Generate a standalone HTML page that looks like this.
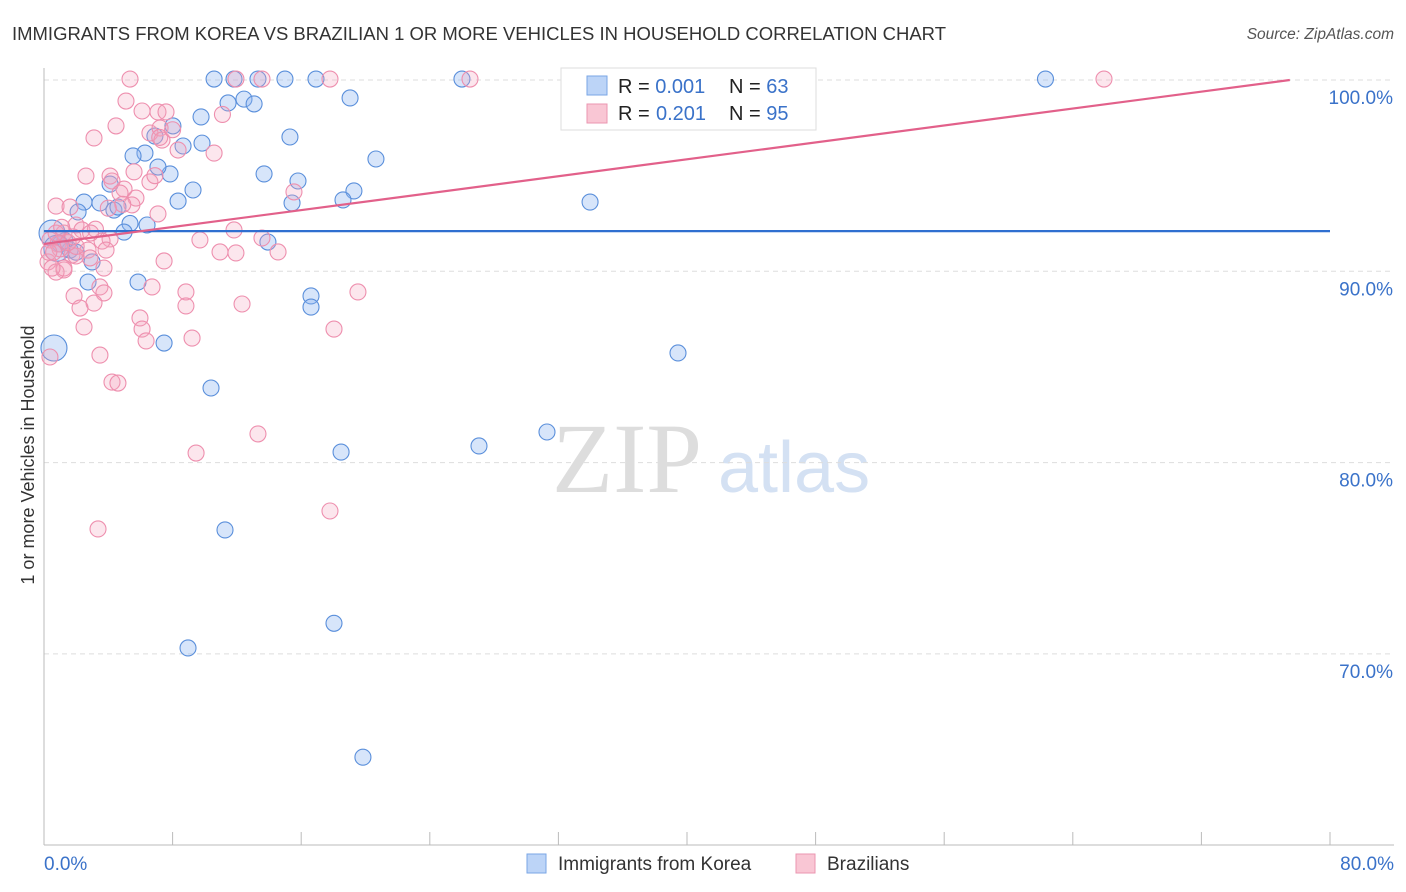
<!DOCTYPE html>
<html><head><meta charset="utf-8"><style>
body{margin:0;background:#fff;font-family:"Liberation Sans",sans-serif;}
svg{display:block}
</style></head><body>
<svg id="chart" width="1406" height="892" viewBox="0 0 1406 892">
<text x="12" y="40" font-size="18" fill="#333" textLength="934" lengthAdjust="spacingAndGlyphs">IMMIGRANTS FROM KOREA VS BRAZILIAN 1 OR MORE VEHICLES IN HOUSEHOLD CORRELATION CHART</text>
<text x="1394" y="39" font-size="15.5" fill="#555" font-style="italic" text-anchor="end">Source: ZipAtlas.com</text>
<text x="0" y="0" transform="translate(34,455) rotate(-90)" font-size="18" fill="#333" text-anchor="middle">1 or more Vehicles in Household</text>
<text x="552" y="492" font-size="100" fill="#ddd" font-family="Liberation Serif,serif">ZIP</text>
<text x="718" y="492" font-size="72" fill="#d4e1f3">atlas</text>
<g id="grid"></g>
<g id="pts"></g>
<g id="lines"></g>
<g>
<rect x="561" y="68" width="255" height="62" fill="#fff" stroke="#ddd"/>
<rect x="587" y="76" width="20" height="19" fill="#bcd4f7" stroke="#7aa6e6"/>
<text x="618" y="93" font-size="20" fill="#222">R = <tspan fill="#3a72c9">0.001</tspan><tspan x="729">N = </tspan><tspan fill="#3a72c9">63</tspan></text>
<rect x="587" y="104" width="20" height="19" fill="#f9c6d4" stroke="#eb96b0"/>
<text x="618" y="120" font-size="20" fill="#222">R = <tspan x="656" fill="#3a72c9">0.201</tspan><tspan x="729">N = </tspan><tspan fill="#3a72c9">95</tspan></text>
</g>
<g>
<rect x="527" y="854" width="19" height="19" fill="#bcd4f7" stroke="#7aa6e6"/>
<text x="558" y="870" font-size="19" fill="#333">Immigrants from Korea</text>
<rect x="796" y="854" width="19" height="19" fill="#f9c6d4" stroke="#eb96b0"/>
<text x="827" y="870" font-size="19" fill="#333">Brazilians</text>
</g>
</svg>
<script>
const xTicks=[0,10,20,30,40,50,60,70,80];
const yTicks=[70,80,90,100];
const koreaX=[10.58,11.82,13.31,14.99,16.92,26.0,39.3,62.3,11.45,12.44,13.07,19.04,9.77,8.02,15.3,6.9,6.28,5.54,8.65,9.83,20.65,13.69,7.84,7.09,4.11,15.8,9.27,19.28,8.34,15.43,18.6,33.97,2.49,3.48,4.35,2.12,4.6,5.35,4.98,6.41,0.5,13.93,1.0,1.62,2.99,2.74,5.85,16.61,16.61,7.47,0.62,39.44,10.39,18.48,27.06,31.29,11.26,18.04,8.96,19.84,1.3,2.0,0.8];
const koreaY=[100.05,100.05,100.05,100.05,100.05,100.05,100.05,100.05,98.8,99.0,98.75,99.06,98.07,97.6,97.02,97.07,96.18,96.03,96.55,96.7,95.87,95.09,95.09,95.45,94.56,94.72,94.25,94.2,93.67,93.57,93.73,93.62,93.62,93.57,93.2,93.1,93.36,92.5,92.05,92.42,92.0,91.53,91.43,91.11,90.49,89.44,89.44,88.71,88.13,86.25,85.99,85.73,83.9,80.55,80.87,81.6,76.48,71.6,70.31,64.6,91.6,91.0,91.2];
const brazilX=[5.35,11.94,13.56,17.79,26.5,65.94,5.1,6.1,7.09,7.59,4.48,3.11,6.59,7.22,7.34,8.34,10.58,2.61,4.11,4.23,4.98,4.73,5.72,6.59,0.75,1.62,7.09,5.47,11.82,15.55,1.99,2.36,4.11,3.61,9.7,13.56,11.94,10.95,14.56,0.37,0.87,0.25,1.24,0.75,2.74,2.86,3.86,1.74,3.73,7.47,6.72,3.48,3.73,1.87,3.11,8.83,8.83,12.32,2.24,5.97,6.1,2.49,6.35,9.21,18.04,19.53,3.48,0.37,4.23,4.6,9.46,13.31,17.79,3.36,1.24,0.75,1.0,1.99,1.24,0.5,2.0,1.5,0.3,4.9,7.2,6.9,3.2,2.9,0.6,1.1,5.6,8.0,11.1,4.0,1.8];
const brazilY=[100.05,100.05,100.05,100.05,100.05,100.05,98.9,98.38,98.33,98.33,97.6,96.97,97.23,97.49,96.86,96.34,96.18,94.98,94.98,94.72,94.3,94.09,93.83,94.67,93.41,93.36,93.0,93.47,92.16,94.15,92.42,92.16,91.69,91.58,91.64,91.74,90.96,91.01,91.01,91.64,91.43,90.49,90.07,89.96,91.11,90.7,91.11,90.85,90.17,90.54,89.18,89.18,88.87,88.71,88.34,88.92,88.19,88.29,88.08,87.56,86.98,87.09,86.36,86.51,86.98,88.92,85.62,85.52,84.21,84.16,80.5,81.5,77.47,76.53,92.0,92.0,91.17,90.8,90.17,90.17,91.3,91.5,91.0,93.5,97.0,95.0,92.2,92.0,91.0,92.3,95.2,97.4,98.2,93.3,91.8];
const koreaTrend=[0,92.1,80,92.1];
const brazilTrend=[0,91.43,77.5,100];
const X=v=>44+v*16.075, Y=v=>80+(100-v)*19.13;
const NS="http://www.w3.org/2000/svg";
function mk(t,a,p){const e=document.createElementNS(NS,t);for(const k in a)e.setAttribute(k,a[k]);p.appendChild(e);return e;}
const grid=document.getElementById('grid');
yTicks.forEach(t=>{
 const l=mk('line',{x1:44,x2:1394,y1:Y(t),y2:Y(t),stroke:'#ddd','stroke-dasharray':'5,4'},grid);
 
 
 const tx=mk('text',{x:1393,y:Y(t)+24,'font-size':19,fill:'#3a72c9','text-anchor':'end'},grid);
 tx.textContent=t.toFixed(1)+'%';
 
 
});
const ax=mk('line',{x1:44,x2:44,y1:68,y2:845,stroke:'#bbb'},grid);


const bx=mk('line',{x1:44,x2:1394,y1:845,y2:845,stroke:'#bbb'},grid);


for(let i=0;i<=10;i++){const v=i*8;const tk=mk('line',{x1:X(v),x2:X(v),y1:832,y2:845,stroke:'#bbb'},grid);
 
 }
[[xTicks[0],'start',44],[xTicks[8],'end',1394]].forEach(([v,a,x])=>{const t=mk('text',{x:x,y:870,'font-size':19,fill:'#3a72c9','text-anchor':a},grid);t.textContent=v.toFixed(1)+'%';
 
 });
const pts=document.getElementById('pts');
koreaX.forEach((x,i)=>{const c=mk('circle',{cx:X(x),cy:Y(koreaY[i]),r:x<1?13:8,fill:'rgba(140,180,240,0.35)',stroke:'#5a8fdb','stroke-width':1.1},pts);
 
 });
brazilX.forEach((x,i)=>{const c=mk('circle',{cx:X(x),cy:Y(brazilY[i]),r:8,fill:'rgba(245,165,190,0.28)',stroke:'#ee8fae','stroke-width':1.1},pts);
 
 });
const lines=document.getElementById('lines');
const kl=mk('line',{x1:X(koreaTrend[0]),y1:Y(koreaTrend[1]),x2:X(koreaTrend[2]),y2:Y(koreaTrend[3]),stroke:'#2f6fd0','stroke-width':2.2},lines);


const bl=mk('line',{x1:X(brazilTrend[0]),y1:Y(brazilTrend[1]),x2:X(brazilTrend[2]),y2:Y(brazilTrend[3]),stroke:'#e2608a','stroke-width':2.2},lines);


</script>
</body></html>
